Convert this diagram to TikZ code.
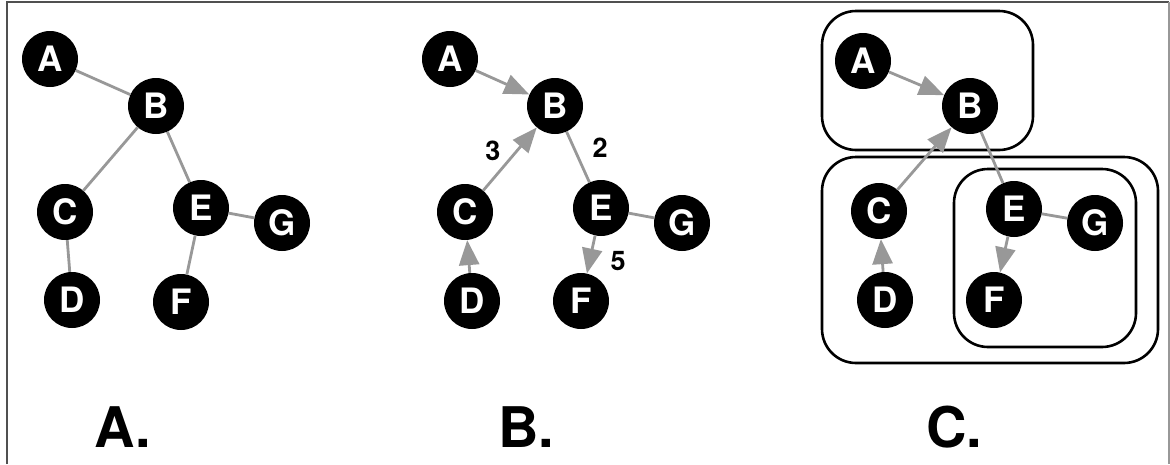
\documentclass[tikz,border=0pt]{standalone}
\usepackage{fontspec}
\setmainfont{TeX Gyre Heros}
\usetikzlibrary{arrows.meta}
\definecolor{edgegray}{RGB}{152,152,152}
\definecolor{framegray}{RGB}{80,80,80}
\begin{document}
\begin{tikzpicture}[x=1pt,y=-1pt,
  vertex/.style={circle,fill=black,text=white,minimum size=56pt,inner sep=0pt,
    font=\fontsize{35}{35}\selectfont\bfseries},
  link/.style={draw=edgegray,line width=2.8pt},
  arc/.style={link,-{Triangle[length=25pt,width=20pt]}},
  group/.style={draw=black,line width=2.6pt,rounded corners=34pt},
  weight/.style={font=\fontsize{27}{27}\selectfont\bfseries},
  panel/.style={anchor=base,font=\fontsize{56}{56}\selectfont\bfseries}]
\useasboundingbox (0,0) rectangle (1170,464);
% frame
\draw[framegray,line width=2pt] (7,464) -- (7,2) -- (1169,2);
\draw[edgegray,line width=2pt] (1169,2) -- (1169,464);

% A. plain graph
\foreach \n/\x/\y in {A/50/59,B/156/106,C/65/212,D/72/300,E/201/208,F/181/302,G/282/223}
  \node[vertex] (\n1) at (\x,\y) {\n};
\draw[link] (A1) -- (B1);
\draw[link] (B1) -- (C1);
\draw[link] (B1) -- (E1);
\draw[link] (C1) -- (D1);
\draw[link] (E1) -- (F1);
\draw[link] (E1) -- (G1);

% B. directed, with weights
\foreach \n/\x/\y in {A/450/59,B/555/106,C/465/212,D/472/301,E/601/208,F/581/301,G/682/223}
  \node[vertex] (\n2) at (\x,\y) {\n};
\draw[arc] (A2) -- (B2);
\draw[arc] (C2) -- (B2);
\draw[link] (B2) -- (E2);
\draw[arc] (D2) -- (C2);
\draw[arc] (E2) -- (F2);
\draw[link] (E2) -- (G2);
\node[weight] (w3) at (493,151) {3};
\node[weight] (w2) at (600,148) {2};
\node[weight] (w5) at (618,261) {5};

% C. grouped
\draw[group] (822,11) rectangle (1033,150);
\draw[group] (822,157) rectangle (1158,363);
\draw[group] (954,169) rectangle (1136,347);
\foreach \n/\x/\y in {A/863/61,B/970/106,C/879/211,D/885/300,E/1014/209,F/994/300,G/1095/223}
  \node[vertex] (\n3) at (\x,\y) {\n};
\draw[arc] (A3) -- (B3);
\draw[arc] (C3) -- (B3);
\draw[link] (B3) -- (E3);
\draw[arc] (D3) -- (C3);
\draw[arc] (E3) -- (F3);
\draw[link] (E3) -- (G3);

% captions
\node[panel] (capA) at (123,447) {A.};
\node[panel] (capB) at (526,447) {B.};
\node[panel] (capC) at (954,447) {C.};
\end{tikzpicture}
\end{document}
